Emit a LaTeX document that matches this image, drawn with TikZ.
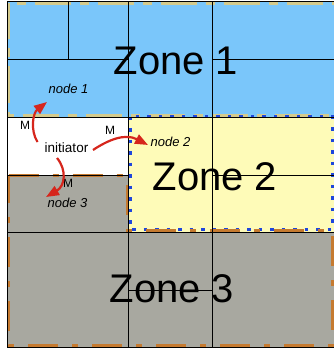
\documentclass[tikz,border=0pt]{standalone}
\usepackage{fontspec}
\setmainfont{Liberation Sans}
\usetikzlibrary{arrows.meta}
\definecolor{zoneblue}{RGB}{122,198,250}
\definecolor{zoneyellow}{RGB}{254,251,184}
\definecolor{zonegray}{RGB}{168,168,160}
\definecolor{khakiline}{RGB}{212,202,140}
\definecolor{brownline}{RGB}{197,122,48}
\definecolor{dotblue}{RGB}{30,70,220}
\definecolor{msgred}{RGB}{214,38,28}
\tikzset{
  gridline/.style={black, line width=1pt},
  zoneonebd/.style={khakiline, line width=3pt, dash pattern=on 36pt off 9pt on 9pt off 9pt},
  zonetwobd/.style={dotblue, line width=3pt, dash pattern=on 3.5pt off 8pt},
  zonethreebd/.style={brownline, line width=3pt, dash pattern=on 30pt off 14pt on 6pt off 14pt},
  zonelabel/.style={font=\fontsize{40}{40}\selectfont, anchor=base, inner sep=0pt},
  nodelabel/.style={font=\fontsize{13}{13}\selectfont\itshape, anchor=base, inner sep=0pt},
  mlabel/.style={font=\fontsize{12}{12}\selectfont, anchor=base, inner sep=0pt},
  initlabel/.style={font=\fontsize{13.5}{13.5}\selectfont, anchor=base, inner sep=0pt},
  msg/.style={msgred, line width=2.2pt, -{Triangle[length=13pt,width=10pt]}}
}
\begin{document}
\begin{tikzpicture}[x=1pt,y=-1pt]
\useasboundingbox (0,0) rectangle (333,350);
% fills
\fill[zoneblue] (7,2) rectangle (338,117);
\fill[white] (7,117) rectangle (128,175);
\fill[zoneyellow] (128,117) rectangle (338,232);
\fill[zonegray] (7,175) rectangle (128,232);
\fill[zonegray] (7,232) rectangle (338,347);
% zone borders
\draw[zoneonebd] (8.5,3.5) rectangle (337,115.5);
\draw[zonetwobd] (130,116.5) rectangle (332,229.5);
\draw[zonethreebd] (8.5,175.5) -- (127,175.5) -- (127,230.5) -- (332,230.5) -- (332,345.5) -- (8.5,345.5) -- cycle;
% grid
\draw[gridline] (7,2) -- (338,2);
\draw[gridline] (7,60) -- (128,60);
\draw[gridline] (212,60) -- (338,60);
\draw[gridline] (7,117) -- (338,117);
\draw[gridline] (7,175) -- (128,175);
\draw[gridline] (212,175) -- (338,175);
\draw[gridline] (7,232) -- (338,232);
\draw[gridline] (128,290) -- (212,290);
\draw[gridline] (7,347) -- (338,347);
\draw[gridline] (7,2) -- (7,347);
\draw[gridline] (68,2) -- (68,60);
\draw[gridline] (128,2) -- (128,347);
\draw[gridline] (212,2) -- (212,347);
% labels
\node[zonelabel] (z1) at (176,75) {Zone 1};
\node[zonelabel] (z2) at (215,190) {Zone 2};
\node[zonelabel] (z3) at (172,302) {Zone 3};
\node[nodelabel] (n1) at (68.5,93) {node 1};
\node[nodelabel] (n2) at (170.5,146) {node 2};
\node[nodelabel] (n3) at (67.5,207) {node 3};
\node[initlabel] (init) at (66.5,152) {initiator};
\node[mlabel] (m1) at (25,129.5) {M};
\node[mlabel] (m2) at (110,134) {M};
\node[mlabel] (m3) at (68,187) {M};
% messages
\coordinate (s1) at (37.5,142);
\coordinate (e1) at (47,102);
\coordinate (s2) at (93,150);
\coordinate (e2) at (148,145);
\coordinate (s3) at (57,158);
\coordinate (e3) at (46,197);
\draw[msg] (s1) .. controls (30,130) and (33,113) .. (e1);
\draw[msg] (s2) .. controls (108,140) and (125,133) .. (e2);
\draw[msg] (s3) .. controls (67,170) and (65,186) .. (e3);
\end{tikzpicture}
\end{document}
